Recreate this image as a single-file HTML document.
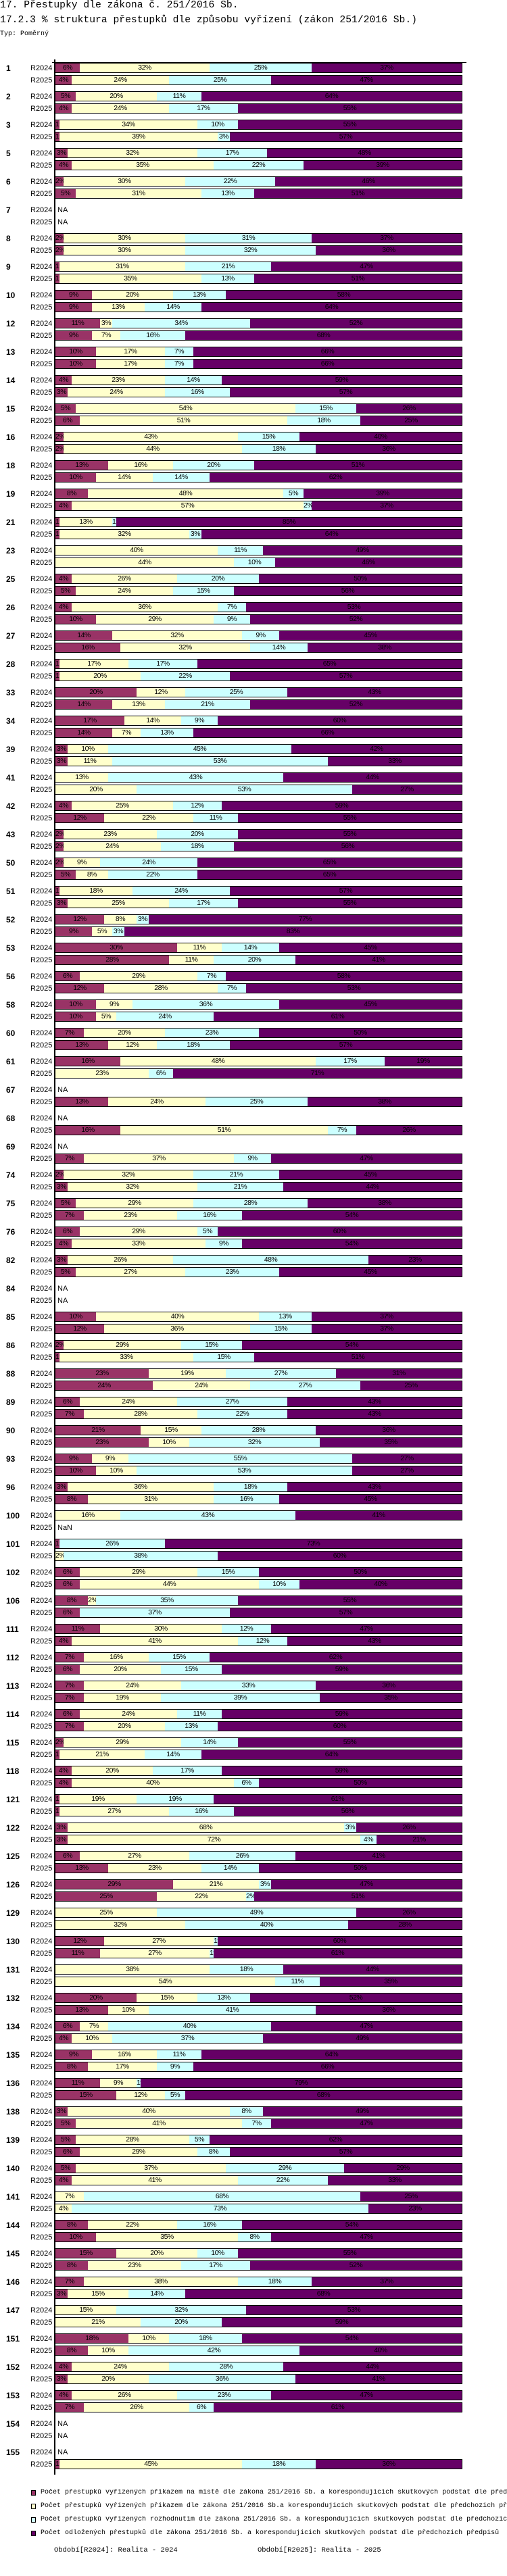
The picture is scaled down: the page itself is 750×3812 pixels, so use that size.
<!DOCTYPE html>
<html><head><meta charset="utf-8">
<style>
html,body{margin:0;padding:0;background:#fff;}
body{width:750px;height:3812px;position:relative;overflow:hidden;font-family:"Liberation Sans",sans-serif;color:#000;}
.t{position:absolute;white-space:nowrap;}
.title{font-family:"Liberation Mono",monospace;font-size:14.7px;}
.mono{font-family:"Liberation Mono",monospace;font-size:10px;}
.gl{position:absolute;font-weight:bold;font-size:12px;left:9px;line-height:14px;}
.rl{position:absolute;font-size:11px;left:45px;line-height:14px;}
.na{position:absolute;font-size:11px;left:85px;line-height:14px;}
.bar{position:absolute;left:81px;width:603px;height:15px;box-sizing:border-box;border:1px solid #000;overflow:hidden;}
.seg{position:absolute;top:0;height:13px;box-sizing:border-box;overflow:hidden;text-align:center;font-size:10.5px;line-height:13px;letter-spacing:-0.5px;white-space:nowrap;}
.lg{position:absolute;left:46px;width:7px;height:8px;border:1px solid #000;box-sizing:border-box;}
.lt{position:absolute;left:60px;width:690px;overflow:hidden;font-family:"Liberation Mono",monospace;font-size:10px;line-height:12px;white-space:nowrap;}
</style></head>
<body>
<div class="t title" style="left:0;top:0;">17. Přestupky dle zákona č. 251/2016 Sb.</div>
<div class="t title" style="left:0;top:22px;">17.2.3 % struktura přestupků dle způsobu vyřízení (zákon 251/2016 Sb.)</div>
<div class="t mono" style="left:0;top:45px;">Typ: Poměrný</div>
<div id="plot"></div>
<div style="position:absolute;left:80px;top:88px;width:2px;height:3574px;background:#000;"></div>
<div style="position:absolute;left:77px;top:92px;width:613px;height:1px;background:#000;"></div>

<div class="lg" style="top:3685px;background:#993366;"></div>
<div class="lt" style="top:3683px;">Počet přestupků vyřízených příkazem na místě dle zákona 251/2016 Sb. a korespondujících skutkových podstat dle předchozích předpisů</div>
<div class="lg" style="top:3705px;background:#FFFFCC;"></div>
<div class="lt" style="top:3703px;">Počet přestupků vyřízených příkazem dle zákona 251/2016 Sb.a korespondujících skutkových podstat dle předchozích předpisů</div>
<div class="lg" style="top:3725px;background:#CCFFFF;"></div>
<div class="lt" style="top:3723px;">Počet přestupků vyřízených rozhodnutím dle zákona 251/2016 Sb. a korespondujících skutkových podstat dle předchozích předpisů</div>
<div class="lg" style="top:3745px;background:#660066;"></div>
<div class="lt" style="top:3743px;">Počet odložených přestupků dle zákona 251/2016 Sb. a korespondujících skutkových podstat dle předchozích předpisů</div>
<div class="t mono" style="left:80px;top:3768px;font-size:10.5px;">Období[R2024]: Realita - 2024</div>
<div class="t mono" style="left:381px;top:3768px;font-size:10.5px;">Období[R2025]: Realita - 2025</div>

<script>
const N = null;
const groups = [1,2,3,5,6,7,8,9,10,12,13,14,15,16,18,19,21,23,25,26,27,28,33,34,39,41,42,43,50,51,52,53,56,58,60,61,67,68,69,74,75,76,82,84,85,86,88,89,90,93,96,100,101,102,106,111,112,113,114,115,118,121,122,125,126,129,130,131,132,134,135,136,138,139,140,141,144,145,146,147,151,152,153,154,155];
const periods = ["R2024","R2025"];
const m24 = [6,5,1,3,2,N,2,1,9,11, 10,4,5,2,13,8,1,0,4,4, 14,1,20,17,3,0,4,2,2,1, 12,30,6,10,7,16,N,N,N,2, 5,6,3,N,10,2,23,6,21,9, 3,0,1,6,8,11,7,7,6,2, 4,1,3,6,29,0,12,0,20,6, 9,11,3,5,5,0,8,15,7,0, 18,4,4,N,N];
const y24 = [32,20,34,32,30,N,30,31,20,3, 17,23,54,43,16,48,13,40,26,36, 32,17,12,14,10,13,25,23,9,18, 8,11,29,9,20,48,N,N,N,32, 29,29,26,N,40,29,19,24,15,9, 36,16,0,29,2,30,16,24,24,29, 20,19,68,27,21,25,27,38,15,7, 16,9,40,28,37,7,22,20,38,15, 10,24,26,N,N];
const c24 = [25,11,10,17,22,N,31,21,13,34, 7,14,15,15,20,5,1,11,20,7, 9,17,25,9,45,43,12,20,24,24, 3,14,7,36,23,17,N,N,N,21, 28,5,48,N,13,15,27,27,28,55, 18,43,26,15,35,12,15,33,11,14, 17,19,3,26,3,49,1,18,13,40, 11,1,8,5,29,68,16,10,18,32, 18,28,23,N,N];
const p24 = [37,64,55,48,46,N,37,47,58,52, 66,59,26,40,51,39,85,49,50,53, 45,65,43,60,42,44,59,55,65,57, 77,45,58,45,50,19,N,N,N,45, 38,60,23,N,37,54,31,43,36,27, 43,41,73,50,55,47,62,36,59,55, 59,61,26,41,47,26,60,44,52,47, 64,79,49,62,29,25,54,55,37,53, 54,44,47,N,N];
const m25 = [4,4,1,4,5,N,2,1,9,9, 10,3,6,2,10,4,1,0,5,10, 16,1,14,14,3,0,12,2,5,3, 9,28,12,10,13,0,13,16,7,3, 7,4,5,N,12,1,24,7,23,10, 8,NaN,0,6,6,4,6,7,7,1, 4,1,3,13,25,0,11,0,13,4, 8,15,5,6,4,0,10,8,3,0, 8,3,7,N,1];
const y25 = [24,24,39,35,31,N,30,35,13,7, 17,24,51,44,14,57,32,44,24,29, 32,20,13,7,11,20,22,24,8,25, 5,11,28,5,12,23,24,51,37,32, 23,33,27,N,36,33,24,28,10,10, 31,NaN,2,44,0,41,20,19,20,21, 40,27,72,23,22,32,27,54,10,10, 17,12,41,29,41,4,35,23,15,21, 10,20,26,N,45];
const c25 = [25,17,3,22,13,N,32,13,14,16, 7,16,18,18,14,2,3,10,15,9, 14,22,21,13,53,53,11,18,22,17, 3,20,7,24,18,6,25,7,9,21, 16,9,23,N,15,15,27,22,32,53, 16,NaN,38,10,37,12,15,39,13,14, 6,16,4,14,2,40,1,11,41,37, 9,5,7,8,22,73,8,17,14,20, 42,36,6,N,18];
const p25 = [47,55,57,39,51,N,36,51,64,68, 66,57,25,36,62,37,64,46,56,52, 38,57,52,66,33,27,55,56,65,55, 83,41,53,61,57,71,38,26,47,44, 54,54,45,N,37,51,25,43,35,27, 45,NaN,60,40,57,43,59,35,60,64, 50,56,21,50,51,28,61,35,36,49, 66,68,47,57,33,23,47,52,68,59, 40,41,61,N,36];
const seriesNames = ["prikaz-na-miste","prikaz","rozhodnutim","odlozene"];
const colors = ["#993366","#FFFFCC","#CCFFFF","#660066"];

const plot = document.getElementById('plot');
const GY0 = 101, GSTEP = 42, RSTEP = 18, BARW = 601;
function groupY(i){ return GY0 + i*GSTEP; }
function xScale(v,sum){ return v/sum*BARW; }

groups.forEach(function(g,i){
  const gy = groupY(i);
  const gl = document.createElement('div');
  gl.className='gl'; gl.style.top=(gy-7)+'px'; gl.textContent=g;
  
  
  plot.appendChild(gl);
  const rows = [[m24[i],y24[i],c24[i],p24[i]],[m25[i],y25[i],c25[i],p25[i]]];
  rows.forEach(function(vals,r){
    const ry = gy + r*RSTEP;
    const rl = document.createElement('div');
    rl.className='rl'; rl.style.top=(ry-7)+'px'; rl.textContent=periods[r];
    
    
    plot.appendChild(rl);
    if(vals[0]===null || (typeof vals[0]==='number' && isNaN(vals[0]))){
      const na = document.createElement('div');
      na.className='na'; na.style.top=(ry-7)+'px';
      na.textContent = vals[0]===null ? 'NA' : 'NaN';
      
      
      plot.appendChild(na);
      return;
    }
    const sum = vals.reduce(function(a,b){return a+b;},0);
    const bar = document.createElement('div');
    bar.className='bar'; bar.style.top=(ry-8)+'px';
    
    
    let cum = 0;
    vals.forEach(function(v,k){
      const x0 = Math.round(xScale(cum,sum));
      cum += v;
      const x1 = Math.round(xScale(cum,sum));
      if(v<=0) return;
      const s = document.createElement('div');
      s.className='seg';
      s.style.left = x0+'px';
      s.style.width = (x1-x0+(k<3?1:0))+'px';
      s.style.background = colors[k];
      if(k<3) s.style.borderRight='1px solid #000';
      s.textContent = v+'%';
      
      
      bar.appendChild(s);
    });
    plot.appendChild(bar);
  });
});
</script>
</body></html>
